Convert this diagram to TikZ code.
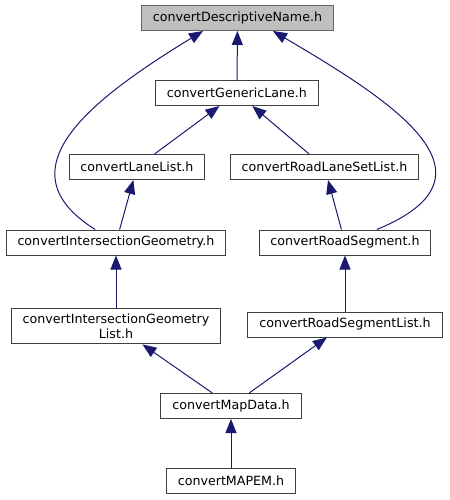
\documentclass[tikz,border=0pt]{standalone}
\usepackage{fontspec}
\setmainfont{DejaVu Sans}
\usepackage{xcolor}
\usepackage{tikz}
\usetikzlibrary{arrows.meta,positioning}
\definecolor{edgeblue}{HTML}{191970}

\begin{document}
\begin{tikzpicture}[x=0.75pt, y=-0.75pt,
      hb/.style={draw=black!75, fill=white, font=\fontsize{9.5}{11.5}\selectfont, align=center,
                 inner xsep=8.6pt, inner ysep=4pt, minimum height=18.75pt, line width=0.75pt},
      harr/.style={-{Triangle[length=10.5pt, width=8.25pt]}, edgeblue, line width=0.75pt}]
    \useasboundingbox (0,0) rectangle (450,500);
    \node[hb, fill=black!25, draw=black!60] (dn) at (237.5,18) {convertDescriptiveName.h};
    \node[hb] (gl) at (237,93) {convertGenericLane.h};
    \node[hb] (ll) at (137,167) {convertLaneList.h};
    \node[hb] (rlsl) at (324.5,167) {convertRoadLaneSetList.h};
    \node[hb] (ig) at (116,242.5) {convertIntersectionGeometry.h};
    \node[hb] (rs) at (345,242.5) {convertRoadSegment.h};
    \node[hb] (igl) at (116,326) {convertIntersectionGeometry\\List.h};
    \node[hb] (rsl) at (345,324.5) {convertRoadSegmentList.h};
    \node[hb] (md) at (231,406) {convertMapData.h};
    \node[hb] (mapem) at (231,480.5) {convertMAPEM.h};
    \draw[harr] (gl) -- (dn); \draw[harr] (ll) -- (gl); \draw[harr] (rlsl) -- (gl);
    \draw[harr] (ig) -- (ll); \draw[harr] (rs) -- (rlsl);
    \draw[harr] (igl) -- (ig); \draw[harr] (rsl) -- (rs);
    \draw[harr] (md) -- (igl); \draw[harr] (md) -- (rsl); \draw[harr] (mapem) -- (md);
    \draw[harr] (ig) .. controls (0,170) and (90,100) .. ([xshift=-25.9pt]dn.south);
    \draw[harr] (rs) .. controls (510,175) and (390,100) .. ([xshift=26.6pt]dn.south);
  \end{tikzpicture}
\end{document}
